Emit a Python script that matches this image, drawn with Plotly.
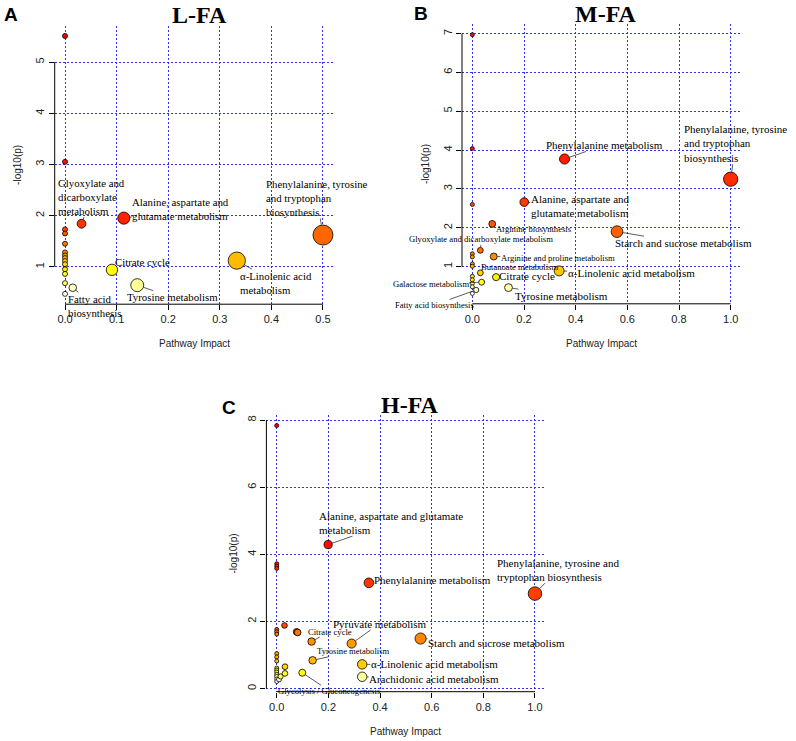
import numpy as np
import plotly.graph_objects as go

# ---------------- data ----------------
# Panel A : L-FA
A_names = ["", "", "Glyoxylate and dicarboxylate metabolism",
           "Alanine, aspartate and glutamate metabolism",
           "Phenylalanine, tyrosine and tryptophan biosynthesis",
           "α-Linolenic acid metabolism", "Citrate cycle", "Tyrosine metabolism",
           "Fatty acid biosynthesis",
           "", "", "", "", "", "", "", "", "", "", "", ""]
A_impact = [0.0, 0.0, 0.032, 0.114, 0.5, 0.333, 0.091, 0.14, 0.015,
            0.0, 0.0, 0.0, 0.0, 0.0, 0.0, 0.0, 0.0, 0.0, 0.0, 0.0, 0.0]
A_logp = [5.51, 3.05, 1.84, 1.95, 1.62, 1.12, 0.94, 0.64, 0.59,
          1.73, 1.65, 1.45, 1.28, 1.22, 1.17, 1.11, 1.05, 0.95, 0.86, 0.68, 0.47]

# Panel B : M-FA
B_names = ["", "", "", "Arginine biosynthesis",
           "Alanine, aspartate and glutamate metabolism",
           "Phenylalanine metabolism",
           "Phenylalanine, tyrosine and tryptophan biosynthesis",
           "Starch and sucrose metabolism",
           "Glyoxylate and dicarboxylate metabolism",
           "Arginine and proline metabolism", "Butanoate metabolism",
           "α-Linolenic acid metabolism", "Citrate cycle", "Galactose metabolism",
           "Tyrosine metabolism", "Fatty acid biosynthesis",
           "", "", "", "", "", "", "", "", ""]
B_impact = [0.0, 0.0, 0.0, 0.077, 0.201, 0.357, 1.0, 0.56, 0.031, 0.083, 0.031,
            0.336, 0.092, 0.036, 0.14, 0.015,
            0.0, 0.0, 0.0, 0.0, 0.0, 0.0, 0.0, 0.0, 0.0]
B_logp = [6.97, 4.04, 2.60, 2.10, 2.66, 3.77, 3.25, 1.90, 1.42, 1.26, 0.84,
          0.89, 0.73, 0.60, 0.46, 0.40,
          1.33, 1.25, 1.07, 1.01, 0.75, 0.66, 0.57, 0.48, 0.31]

# Panel C : H-FA
C_names = ["", "", "", "", "Alanine, aspartate and glutamate metabolism",
           "Phenylalanine metabolism",
           "Phenylalanine, tyrosine and tryptophan biosynthesis",
           "", "", "", "Citrate cycle", "Pyruvate metabolism",
           "Starch and sucrose metabolism", "Tyrosine metabolism",
           "α-Linolenic acid metabolism", "Arachidonic acid metabolism",
           "Glycolysis / Gluconeogenesis", "", "", "", "",
           "", "", "", "", "", "", "", "", "", "", "", "", ""]
C_impact = [0.0, 0.0, 0.0, 0.0, 0.199, 0.357, 1.0, 0.03, 0.077, 0.081, 0.135,
            0.29, 0.557, 0.139, 0.331, 0.331, 0.099, 0.032, 0.032, 0.015, 0.009,
            0.0, 0.0, 0.0, 0.0, 0.0, 0.0, 0.0, 0.0, 0.0, 0.0, 0.0, 0.0, 0.0]
C_logp = [7.84, 3.72, 3.65, 3.58, 4.29, 3.15, 2.83, 1.88, 1.69, 1.67, 1.40,
          1.34, 1.49, 0.84, 0.72, 0.35, 0.47, 0.65, 0.45, 0.36, 0.27,
          1.76, 1.69, 1.62, 1.04, 0.94, 0.82, 0.61, 0.55, 0.49, 0.42, 0.36, 0.28, 0.21]

A_xticks = [0.0, 0.1, 0.2, 0.3, 0.4, 0.5]
A_yticks = [1, 2, 3, 4, 5]
B_xticks = [0.0, 0.2, 0.4, 0.6, 0.8, 1.0]
B_yticks = [1, 2, 3, 4, 5, 6, 7]
C_xticks = [0.0, 0.2, 0.4, 0.6, 0.8, 1.0]
C_yticks = [0, 2, 4, 6, 8]

# ---------------- styling / label layout ----------------
W, H = 796, 741
BIG, SMALL = 11, 8.6
LABELS = {
    "A": {
        "Glyoxylate and dicarboxylate metabolism": ("Glyoxylate and<br>dicarboxylate<br>metabolism", 10, -27, 10.8),
        "Alanine, aspartate and glutamate metabolism": ("Alanine, aspartate and<br>glutamate metabolism", 57, -9, 10.8),
        "Phenylalanine, tyrosine and tryptophan biosynthesis": ("Phenylalanine, tyrosine<br>and tryptophan<br>biosynthesis", -6, -37, 10.8),
        "α-Linolenic acid metabolism": ("α-Linolenic acid<br>metabolism", 39, 22, 10.8),
        "Citrate cycle": ("Citrate cycle", 31, -8, 10.8),
        "Tyrosine metabolism": ("Tyrosine metabolism", 35, 12, 10.8),
        "Fatty acid biosynthesis": ("Fatty acid<br>biosynthesis", 22, 18, 10.8),
    },
    "B": {
        "Phenylalanine metabolism": ("Phenylalanine metabolism", 40, -14, BIG),
        "Phenylalanine, tyrosine and tryptophan biosynthesis": ("Phenylalanine, tyrosine<br>and tryptophan<br>biosynthesis", 5, -36, BIG),
        "Alanine, aspartate and glutamate metabolism": ("Alanine, aspartate and<br>glutamate metabolism", 56, 4, BIG),
        "Starch and sucrose metabolism": ("Starch and sucrose metabolism", 66, 11, BIG),
        "α-Linolenic acid metabolism": ("α-Linolenic acid metabolism", 72, 2, BIG),
        "Citrate cycle": ("Citrate cycle", 31, -1, BIG),
        "Tyrosine metabolism": ("Tyrosine metabolism", 53, 8, BIG),
        "Arginine biosynthesis": ("Arginine biosynthesis", 42, 5, SMALL),
        "Glyoxylate and dicarboxylate metabolism": ("Glyoxylate and dicarboxylate metabolism", 1, -11, SMALL),
        "Arginine and proline metabolism": ("Arginine and proline metabolism", 64, 1, SMALL),
        "Butanoate metabolism": ("Butanoate metabolism", 39, -6, SMALL),
        "Galactose metabolism": ("Galactose metabolism", -51, 2, SMALL),
        "Fatty acid biosynthesis": ("Fatty acid biosynthesis", -42, 15, SMALL),
    },
    "C": {
        "Alanine, aspartate and glutamate metabolism": ("Alanine, aspartate and glutamate<br>metabolism", 63, -22, BIG),
        "Phenylalanine metabolism": ("Phenylalanine metabolism", 64, -3, BIG),
        "Phenylalanine, tyrosine and tryptophan biosynthesis": ("Phenylalanine, tyrosine and<br>tryptophan biosynthesis", 23, -24, BIG),
        "Pyruvate metabolism": ("Pyruvate metabolism", 28, -20, BIG),
        "Citrate cycle": ("Citrate cycle", 18, -10, SMALL),
        "Starch and sucrose metabolism": ("Starch and sucrose metabolism", 76, 4, BIG),
        "Tyrosine metabolism": ("Tyrosine metabolism", 41, -9, SMALL),
        "α-Linolenic acid metabolism": ("α-Linolenic acid metabolism", 72, 0, BIG),
        "Arachidonic acid metabolism": ("Arachidonic acid metabolism", 72, 2, BIG),
        "Glycolysis / Gluconeogenesis": ("Glycolysis / Gluconeogenesis", 27, 18, SMALL),
    },
}

HEAT = [[0.0, "#FF0000"], [0.75, "#FFFF00"], [1.0, "#FFFFFF"]]
GRID = "#3030F0"
SERIF = "Liberation Serif"
SANS = "Arial"


def px2dom(a, b, total, flip=False):
    if flip:
        return [1 - b / total, 1 - a / total]
    return [a / total, b / total]


PANELS = [
    dict(key="A", names=A_names, impact=A_impact, logp=A_logp, xt=A_xticks, yt=A_yticks,
         xpx=(54.7, 333.3), ypx=(25.6, 304.2), dmin=5, dmax=20, title="L-FA",
         title_xy=(199, 15), letter_xy=(11, 15), ylab_x=18, xlab_y=343),
    dict(key="B", names=B_names, impact=B_impact, logp=B_logp, xt=B_xticks, yt=B_yticks,
         xpx=(462, 741), ypx=(24.3, 303.8), dmin=4, dmax=14.3, title="M-FA",
         title_xy=(606, 14), letter_xy=(421, 13), ylab_x=425, xlab_y=343),
    dict(key="C", names=C_names, impact=C_impact, logp=C_logp, xt=C_xticks, yt=C_yticks,
         xpx=(266.4, 545.3), ypx=(415.3, 691.7), dmin=4, dmax=13.5, title="H-FA",
         title_xy=(410, 405), letter_xy=(229, 407), ylab_x=233, xlab_y=731),
]

fig = go.Figure()
annotations, shapes = [], []

for i, p in enumerate(PANELS, start=1):
    xa = "x" if i == 1 else f"x{i}"
    ya = "y" if i == 1 else f"y{i}"
    x = np.array(p["impact"], dtype=float)
    y = np.array(p["logp"], dtype=float)
    n = len(y)
    # colour by rank of -log10(p) (heat colours), size by impact
    order = np.argsort(-y, kind="stable")
    rank = np.empty(n)
    rank[order] = np.arange(n)
    tcol = rank / (n - 1)
    sizes = p["dmin"] + (p["dmax"] - p["dmin"]) * np.sqrt(x / x.max())

    # ranges: data range extended by 4 % (R style)
    xr = [x.min() - 0.04 * (x.max() - x.min()), x.max() + 0.04 * (x.max() - x.min())]
    yr = [y.min() - 0.04 * (y.max() - y.min()), y.max() + 0.04 * (y.max() - y.min())]

    draw = np.argsort(sizes, kind="stable")
    fig.add_trace(go.Scatter(
        x=x[draw], y=y[draw], mode="markers", xaxis=xa, yaxis=ya,
        marker=dict(size=sizes[draw], color=tcol[draw], colorscale=HEAT, cmin=0, cmax=1,
                    line=dict(color="black", width=0.8), opacity=1),
        cliponaxis=False, showlegend=False, hoverinfo="skip"))

    axis_common = dict(showgrid=True, gridcolor=GRID, griddash="2px,2px", gridwidth=1,
                       zeroline=False, showline=False, ticks="outside", ticklen=5,
                       tickcolor="black", tickwidth=1,
                       tickfont=dict(family=SANS, size=11, color="#222"))
    fig.layout[("xaxis" if i == 1 else f"xaxis{i}")] = dict(
        domain=px2dom(*p["xpx"], W), range=xr, anchor=ya, tickvals=p["xt"],
        tickformat=".1f", **axis_common)
    fig.layout[("yaxis" if i == 1 else f"yaxis{i}")] = dict(
        domain=px2dom(*p["ypx"], H, flip=True), range=yr, anchor=xa, tickvals=p["yt"],
        tickangle=-90, **axis_common)

    # R-style axis lines spanning first to last tick
    shapes.append(dict(type="line", xref=xa, yref=f"{ya} domain", x0=p["xt"][0], x1=p["xt"][-1],
                       y0=0, y1=0, line=dict(color="black", width=1)))
    shapes.append(dict(type="line", xref=f"{xa} domain", yref=ya, x0=0, x1=0,
                       y0=p["yt"][0], y1=p["yt"][-1], line=dict(color="black", width=1)))

    # pathway labels with leader lines
    for nm, xv, yv, s in zip(p["names"], x, y, sizes):
        if nm and nm in LABELS[p["key"]]:
            txt, ax, ay, fs = LABELS[p["key"]][nm]
            annotations.append(dict(
                x=xv, y=yv, xref=xa, yref=ya, text=txt, showarrow=True, ax=ax, ay=ay,
                arrowhead=0, arrowwidth=0.8, arrowcolor="#333", standoff=s / 2,
                align="left", font=dict(family=SERIF, size=fs, color="black"),
                borderpad=0))

    # titles and axis labels
    tx, ty = p["title_xy"]
    annotations.append(dict(text=f"<b>{p['title']}</b>", xref="paper", yref="paper",
                            x=tx / W, y=1 - ty / H, showarrow=False,
                            font=dict(family=SERIF, size=24, color="black"),
                            xanchor="center", yanchor="middle"))
    lx, ly = p["letter_xy"]
    annotations.append(dict(text=f"<b>{p['key']}</b>", xref="paper", yref="paper",
                            x=lx / W, y=1 - ly / H, showarrow=False,
                            font=dict(family=SANS, size=19, color="black"),
                            xanchor="center", yanchor="middle"))
    ycen = (p["ypx"][0] + p["ypx"][1]) / 2
    annotations.append(dict(text="-log10(p)", xref="paper", yref="paper",
                            x=p["ylab_x"] / W, y=1 - ycen / H, showarrow=False, textangle=-90,
                            font=dict(family=SANS, size=10, color="#222"),
                            xanchor="center", yanchor="middle"))
    xcen = (p["xpx"][0] + p["xpx"][1]) / 2
    annotations.append(dict(text="Pathway Impact", xref="paper", yref="paper",
                            x=xcen / W, y=1 - p["xlab_y"] / H, showarrow=False,
                            font=dict(family=SANS, size=10, color="#222"),
                            xanchor="center", yanchor="middle"))

fig.update_layout(width=W, height=H, margin=dict(l=0, r=0, t=0, b=0),
                  paper_bgcolor="white", plot_bgcolor="white",
                  annotations=annotations, shapes=shapes, showlegend=False)

fig.write_html("out.html", config={"displayModeBar": False},
               post_script="document.body.style.margin='0px';document.body.style.overflow='hidden';")
